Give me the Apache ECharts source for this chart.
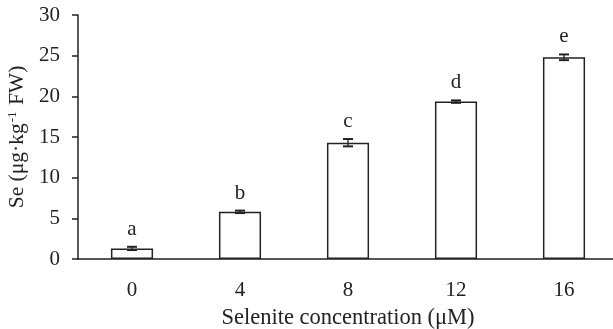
<!DOCTYPE html>
<html>
<head>
<meta charset="utf-8">
<script src="https://cdn.jsdelivr.net/npm/echarts@6/dist/echarts.min.js"></script>
<style>
  html, body { margin: 0; padding: 0; background: #fff; }
  #chart { width: 613px; height: 329px; }
</style>
</head>
<body>
<div id="chart"></div>
<script>
// selenite concentration (uM)
const categories = ['0', '4', '8', '12', '16'];
// Se content, ug/kg FW
const seValues = [1.3, 5.8, 14.3, 19.35, 24.8];
const seErrors = [0.2, 0.15, 0.45, 0.15, 0.35];
const sigLetters = ['a', 'b', 'c', 'd', 'e'];
const yTicks = { min: 0, max: 30, interval: 5 };

const FONT = 'Liberation Serif';
const myChart = echarts.init(document.getElementById('chart'));

/* error bar + significance letter */
function renderErr (params, api) {
    const i = api.value(0);
    const mean = api.value(1);
    const err = api.value(2);
    const top = api.coord([i, mean + err]);
    const bot = api.coord([i, mean - err]);
    const half = 5;
    return {
        type: 'group',
        children: [
            { type: 'line', shape: { x1: top[0], y1: top[1], x2: bot[0], y2: bot[1] }, style: { stroke: '#222', lineWidth: 1.3 } },
            { type: 'line', shape: { x1: top[0] - half, y1: top[1], x2: top[0] + half, y2: top[1] }, style: { stroke: '#222', lineWidth: 2 } },
            { type: 'line', shape: { x1: bot[0] - half, y1: bot[1], x2: bot[0] + half, y2: bot[1] }, style: { stroke: '#222', lineWidth: 2 } },
            {
                type: 'text',
                style: {
                    text: sigLetters[i],
                    x: top[0],
                    y: top[1] - 7,
                    align: 'center',
                    verticalAlign: 'bottom',
                    font: '21px "' + FONT + '"',
                    fill: '#222'
                }
            }
        ]
    };
}

const option = {
    animation: false,
    backgroundColor: '#fff',
    grid: { left: 78, right: -5, top: 15, bottom: 70, outerBoundsMode: 'none', containLabel: false },
    xAxis: {
        type: 'category',
        data: categories,
        axisLine: { lineStyle: { color: '#222', width: 1.5 } },
        axisTick: { show: false },
        axisLabel: { color: '#222', fontFamily: FONT, fontSize: 21, margin: 21 },
        name: 'Selenite concentration (\u03bcM)',
        nameLocation: 'middle',
        nameGap: 48,
        nameTextStyle: { color: '#222', fontFamily: FONT, fontSize: 22.5 }
    },
    yAxis: {
        type: 'value',
        min: yTicks.min,
        max: yTicks.max,
        interval: yTicks.interval,
        splitLine: { show: false },
        axisLine: { show: true, lineStyle: { color: '#222', width: 1.5 } },
        axisTick: { show: true, length: 6, lineStyle: { color: '#222', width: 1.5 } },
        axisLabel: { color: '#222', fontFamily: FONT, fontSize: 21, margin: 18 },
        name: '{a|Se (\u03bcg\u00b7kg}{s|-1}{a| FW)}',
        nameLocation: 'middle',
        nameGap: 46,
        nameTextStyle: {
            color: '#222',
            rich: {
                a: { fontFamily: FONT, fontSize: 21.5, color: '#222' },
                s: { fontFamily: FONT, fontSize: 13, color: '#222', padding: [0, 1, 9, 1] }
            }
        }
    },
    series: [
        {
            type: 'bar',
            data: seValues,
            barWidth: '39%',
            itemStyle: { color: '#fff', borderColor: '#222', borderWidth: 1.5 }
        },
        {
            type: 'custom',
            renderItem: renderErr,
            data: seValues.map((v, i) => [i, v, seErrors[i]]),
            z: 10
        }
    ]
};

myChart.setOption(option);
</script>
</body>
</html>
